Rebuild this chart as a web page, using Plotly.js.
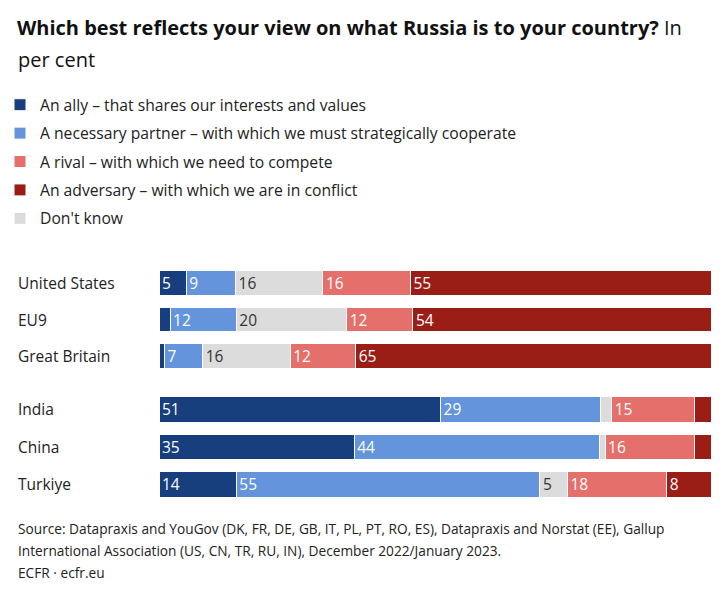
<!DOCTYPE html>
<html>
<head>
<meta charset="utf-8">
<script src="https://cdn.plot.ly/plotly-3.0.1.min.js"></script>
<style>html,body{margin:0;padding:0;background:#fff;}#chart{width:727px;height:594px;}</style>
</head>
<body>
<div id="chart"></div>
<script>
// ---- data ----
var topCountries = ['United States', 'EU9', 'Great Britain'];
var bottomCountries = ['India', 'China', 'Turkiye'];
var ally      = [5, 2, 1, 51, 35, 14];
var partner   = [9, 12, 7, 29, 44, 55];
var dontKnow  = [16, 20, 16, 2, 1, 5];
var rival     = [16, 12, 12, 15, 16, 18];
var adversary = [55, 54, 65, 3, 3, 8];
var seriesNames = [
  'An ally – that shares our interests and values',
  'A necessary partner – with which we must strategically cooperate',
  "Don't know",
  'A rival – with which we need to compete',
  'An adversary – with which we are in conflict'
];

// ---- layout helpers ----
var W = 727, H = 594, L = 159, R = 16;
var PW = W - L - R;
function px(x) { return (x - L) / PW; }
function py(y) { return 1 - y / H; }

var FONT = '"Open Sans", Lato, sans-serif';
var series = [ally, partner, dontKnow, rival, adversary];
var colors = ['#173e7d', '#6394dc', '#dcdcdc', '#e56f6a', '#9a1d16'];
var textColors = ['#ffffff', '#ffffff', '#333333', '#ffffff', '#ffffff'];
var ranks = [1, 2, 5, 3, 4];

var traces = [];
series.forEach(function (vals, i) {
  [[topCountries, 0, 'y'], [bottomCountries, 3, 'y2']].forEach(function (g, gi) {
    var v = vals.slice(g[1], g[1] + 3);
    traces.push({
      type: 'bar',
      orientation: 'h',
      name: seriesNames[i],
      x: v,
      y: g[0],
      xaxis: 'x',
      yaxis: g[2],
      text: v.map(function (d) { return d >= 5 ? String(d) : ''; }),
      textposition: 'inside',
      insidetextanchor: 'start',
      constraintext: 'none',
      textangle: 0,
      textfont: { family: FONT, size: 15.5, color: textColors[i] },
      marker: { color: colors[i], line: { color: '#ffffff', width: 1 } },
      legendgroup: 'g' + i,
      legendrank: ranks[i],
      showlegend: gi === 0,
      hoverinfo: 'x+y+name'
    });
  });
});

var annotations = [];
topCountries.forEach(function (c) {
  annotations.push({ text: c, xref: 'paper', yref: 'y', x: px(16), y: c, xanchor: 'left', yanchor: 'middle',
    showarrow: false, font: { family: FONT, size: 15.5, color: '#222' } });
});
bottomCountries.forEach(function (c) {
  annotations.push({ text: c, xref: 'paper', yref: 'y2', x: px(16), y: c, xanchor: 'left', yanchor: 'middle',
    showarrow: false, font: { family: FONT, size: 15.5, color: '#222' } });
});
annotations.push({ text: 'per cent', xref: 'paper', yref: 'paper', x: px(16), y: py(60), xanchor: 'left', yanchor: 'middle',
  showarrow: false, font: { family: FONT, size: 20, color: '#111' } });
var sourceLines = [
  'Source: Datapraxis and YouGov (DK, FR, DE, GB, IT, PL, PT, RO, ES), Datapraxis and Norstat (EE), Gallup',
  'International Association (US, CN, TR, RU, IN), December 2022/January 2023.',
  'ECFR · ecfr.eu'
];
sourceLines.forEach(function (t, i) {
  annotations.push({ text: t, xref: 'paper', yref: 'paper', x: px(16), y: py(528 + i * 22), xanchor: 'left', yanchor: 'middle',
    showarrow: false, font: { family: FONT, size: 13.7, color: '#222' } });
});

var layout = {
  width: W, height: H,
  margin: { l: L, r: R, t: 0, b: 0 },
  paper_bgcolor: '#ffffff', plot_bgcolor: '#ffffff',
  font: { family: FONT, color: '#222' },
  title: {
    text: '<b>Which best reflects your view on what Russia is to your country?</b> In',
    xref: 'container', yref: 'container', x: 17 / W, xanchor: 'left', y: py(28), yanchor: 'middle',
    font: { family: FONT, size: 20, color: '#111' }
  },
  barmode: 'stack',
  barnorm: 'percent',
  bargap: 0.32,
  xaxis: { range: [0, 100], visible: false, fixedrange: true },
  yaxis: { domain: [py(374.5), py(264.5)], autorange: 'reversed', showticklabels: false, showgrid: false, zeroline: false, fixedrange: true },
  yaxis2: { domain: [py(503), py(390.5)], anchor: 'x', autorange: 'reversed', showticklabels: false, showgrid: false, zeroline: false, fixedrange: true },
  showlegend: true,
  legend: {
    x: px(0), xanchor: 'left', y: py(88), yanchor: 'top',
    orientation: 'v', traceorder: 'grouped', tracegroupgap: 5,
    font: { family: FONT, size: 15.7, color: '#222' },
    bgcolor: 'rgba(0,0,0,0)'
  },
  annotations: annotations
};

Plotly.newPlot('chart', traces, layout, { displayModeBar: false, staticPlot: true });
</script>
</body>
</html>
